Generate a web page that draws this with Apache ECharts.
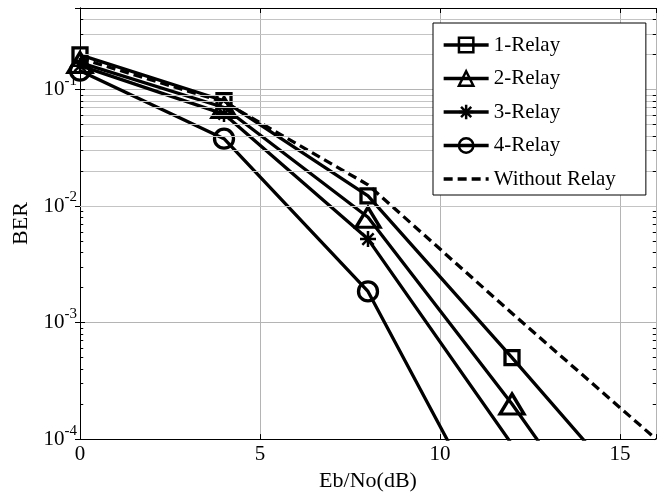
<!DOCTYPE html>
<html>
<head>
<meta charset="utf-8">
<script src="https://cdn.jsdelivr.net/npm/echarts@6.0.0/dist/echarts.min.js"></script>
<style>
  html, body { margin: 0; padding: 0; background: #fff; }
  #main { width: 671px; height: 497px; }
</style>
</head>
<body>
<div id="main"></div>
<script>
// Eb/No (dB) where the curves were sampled
const ebno = [0, 4, 8, 12, 16];
// BER
const relay1 = [0.198, 0.080, 0.0122, 5.0e-4, 1.9e-5];
const relay2 = [0.170, 0.070, 0.0080, 2.0e-4, 3.6e-6];
const relay3 = [0.160, 0.0615, 0.0052, 9.0e-5];
const relay4 = [0.145, 0.0378, 0.00185, 9.0e-6];
const noRelay = [0.185, 0.078, 0.0152, 1.2e-3, 1.0e-4];

const seriesNames = ['1-Relay', '2-Relay', '3-Relay', '4-Relay', 'Without Relay'];
const xTicks = [0, 5, 10, 15];
const yDecades = [-4, -3, -2, -1];

const font = 'Liberation Serif';
const starPath = 'path://M0,-10L0,10M-10,0L10,0M-7.07,-7.07L7.07,7.07M-7.07,7.07L7.07,-7.07';
const LW = 3.3;

// minor log grid values 2..9 x 10^d, up to the top of the axis (0.5)
const minorVals = [];
yDecades.forEach(function (d) {
    for (let k = 2; k <= 9; k++) {
        const v = k * Math.pow(10, d);
        if (v < 0.5) minorVals.push(v);
    }
});

function pairs(ys) {
    return ys.map(function (y, i) { return [ebno[i], y]; });
}

let myChart = echarts.init(document.getElementById('main'));

function relaySeries(name, data, symbol, size) {
    return {
        name: name,
        type: 'line',
        data: pairs(data),
        symbol: symbol,
        symbolSize: size,
        showAllSymbol: true,
        clip: true,
        z: 3,
        lineStyle: { color: '#000', width: LW },
        itemStyle: { color: 'transparent', borderColor: '#000', borderWidth: LW },
        emphasis: { disabled: true }
    };
}

const gridLines = minorVals.map(function (v) { return { yAxis: v }; });
// short inside ticks for the minor values on both sides
const tickSegs = [];
minorVals.forEach(function (v) {
    tickSegs.push([{ coord: [0, v] }, { coord: [0.09, v] }]);
    tickSegs.push([{ coord: [15.91, v] }, { coord: [16, v] }]);
});

const legendData = seriesNames.map(function (n) {
    if (n === 'Without Relay') return { name: n };
    return { name: n, itemStyle: { borderWidth: 2.5 } };
});

myChart.setOption({
    animation: false,
    grid: { left: 80, right: 15, top: 8, bottom: 50, containLabel: false },
    legend: {
        data: legendData,
        orient: 'vertical',
        left: 433,
        top: 23,
        z: 10,
        itemWidth: 45,
        itemHeight: 18,
        itemGap: 12.5,
        padding: [11.5, 30, 5.5, 9],
        backgroundColor: '#fff',
        borderColor: '#000',
        borderWidth: 1,
        borderRadius: 0,
        lineStyle: { width: LW },
        textStyle: { fontFamily: font, fontSize: 21, color: '#000' }
    },
    xAxis: [{
        type: 'value',
        min: 0,
        max: 16,
        interval: 5,
        name: 'Eb/No(dB)',
        nameLocation: 'middle',
        nameGap: 30,
        nameTextStyle: { fontFamily: font, fontSize: 22, color: '#000' },
        axisLine: { show: true, lineStyle: { color: '#000', width: 1 } },
        axisTick: { show: true, inside: true, length: 5, lineStyle: { color: '#000' } },
        axisLabel: {
            margin: 5,
            fontFamily: font, fontSize: 21, color: '#000',
            formatter: function (v) { return xTicks.indexOf(v) >= 0 ? String(v) : ''; }
        },
        splitLine: { show: true, lineStyle: { color: '#b4b4b4', width: 1 } }
    }, {
        type: 'value',
        position: 'top',
        min: 0,
        max: 16,
        interval: 5,
        axisLine: { show: true, lineStyle: { color: '#000', width: 1 } },
        axisTick: { show: true, inside: true, length: 5, lineStyle: { color: '#000' } },
        axisLabel: { show: false },
        splitLine: { show: false }
    }],
    yAxis: [{
        type: 'log',
        logBase: 10,
        min: 1e-4,
        max: 0.5,
        name: 'BER',
        nameLocation: 'middle',
        nameGap: 45,
        nameTextStyle: { fontFamily: font, fontSize: 22, color: '#000' },
        axisLine: { show: true, lineStyle: { color: '#000', width: 1 } },
        axisTick: { show: true, inside: true, length: 5, lineStyle: { color: '#000' } },
        axisLabel: {
            margin: 3,
            formatter: function (v) {
                const e = Math.log10(v);
                const r = Math.round(e);
                if (Math.abs(e - r) > 1e-6 || yDecades.indexOf(r) < 0) return '';
                return '{b|10}{s|' + r + '}';
            },
            rich: {
                b: { fontFamily: font, fontSize: 21, color: '#000', lineHeight: 21, verticalAlign: 'middle' },
                s: { fontFamily: font, fontSize: 15, color: '#000', lineHeight: 15, verticalAlign: 'middle', padding: [0, 0, 17, 0] }
            }
        },
        splitLine: { show: true, lineStyle: { color: '#b4b4b4', width: 1 } }
    }, {
        type: 'log',
        logBase: 10,
        min: 1e-4,
        max: 0.5,
        position: 'right',
        axisLine: { show: true, lineStyle: { color: '#000', width: 1 } },
        axisTick: { show: true, inside: true, length: 5, lineStyle: { color: '#000' } },
        axisLabel: { show: false },
        splitLine: { show: false }
    }],
    series: [
        {
            name: 'grid',
            type: 'line',
            data: [],
            z: 1,
            silent: true,
            markLine: {
                silent: true,
                symbol: 'none',
                label: { show: false },
                animation: false,
                lineStyle: { color: '#c4c4c4', width: 1, type: 'solid' },
                data: gridLines
            }
        },
        {
            name: 'ticks',
            type: 'line',
            data: [],
            z: 2,
            silent: true,
            markLine: {
                silent: true,
                symbol: 'none',
                label: { show: false },
                animation: false,
                lineStyle: { color: '#000', width: 1, type: 'solid' },
                data: tickSegs
            }
        },
        relaySeries('1-Relay', relay1, 'rect', 14),
        relaySeries('2-Relay', relay2, 'triangle', [24, 20]),
        Object.assign(relaySeries('3-Relay', relay3, starPath, 16), {
            itemStyle: { color: '#000', borderColor: '#000', borderWidth: 2.5 }
        }),
        relaySeries('4-Relay', relay4, 'circle', 19),
        {
            name: 'Without Relay',
            type: 'line',
            data: pairs(noRelay),
            symbol: 'none',
            clip: true,
            z: 3,
            lineStyle: { color: '#000', width: LW, type: [9, 5] },
            itemStyle: { color: 'transparent', borderWidth: 0 },
            emphasis: { disabled: true }
        }
    ]
});
</script>
</body>
</html>
